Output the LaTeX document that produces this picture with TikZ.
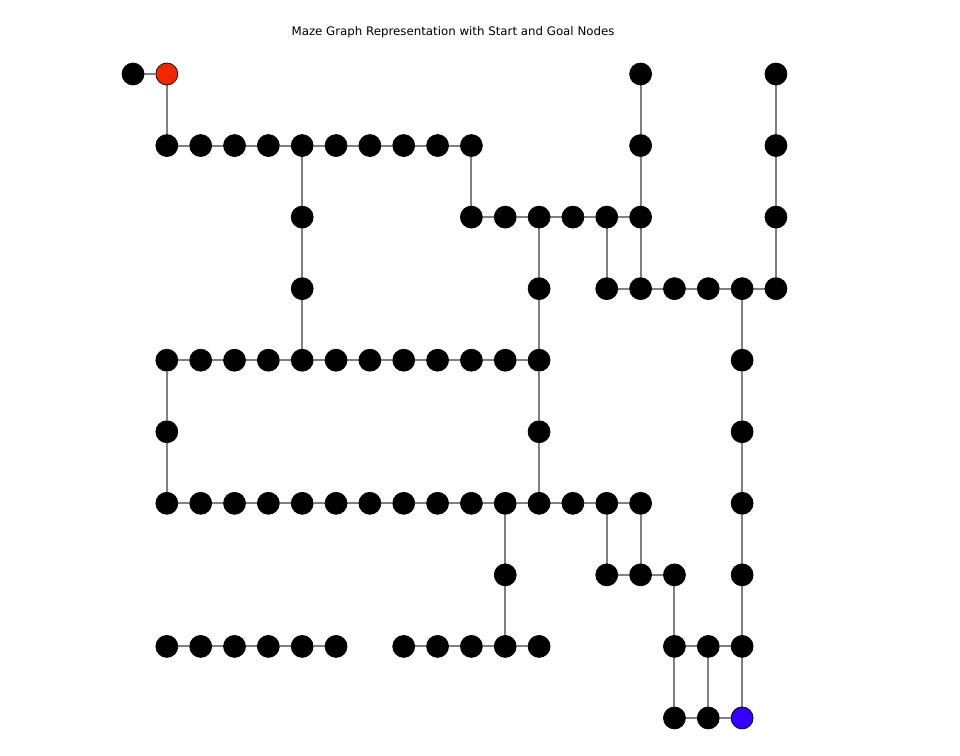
\documentclass[tikz,border=0pt]{standalone}
\usepackage{fontspec}
\setmainfont{DejaVu Sans}
\usetikzlibrary{backgrounds}

\definecolor{startred}{RGB}{240,40,0}
\definecolor{goalblue}{RGB}{52,0,255}

\begin{document}
\begin{tikzpicture}[x=1pt,y=-1pt]

\tikzset{
    cell/.style={circle,inner sep=0pt,minimum size=22pt,draw=black,line width=0.7pt,fill=black},
    link/.style={draw=black!50,line width=2pt}}

\useasboundingbox (0,0) rectangle (960,755);

\node[font=\fontsize{11.8}{14}\selectfont] (title) at (453,32) {Maze Graph Representation with Start and Goal Nodes};

% cells, row/first column/last column
\foreach \r/\a/\b in {0/0/0, 0/15/15, 0/19/19,
    1/1/10, 1/15/15, 1/19/19,
    2/5/5, 2/10/15, 2/19/19,
    3/5/5, 3/12/12, 3/14/19,
    4/1/12, 4/18/18,
    5/1/1, 5/12/12, 5/18/18,
    6/1/15, 6/18/18,
    7/11/11, 7/14/16, 7/18/18,
    8/1/6, 8/8/12, 8/16/18,
    9/16/17}
  \foreach \c in {\a,...,\b}
    \node[cell] (n\r-\c) at ({133+33.84*\c},{74+71.55*\r}) {};

\node[cell, fill=startred] (n0-1) at ({133+33.84},74) {};
\node[cell, fill=goalblue] (n9-18) at ({133+33.84*18},{74+71.55*9}) {};

\begin{scope}[on background layer]
% horizontal passages
\foreach \r/\a/\b in {0/0/1, 1/1/10, 2/10/15, 3/14/19, 4/1/12, 6/1/15,
    7/14/16, 8/1/6, 8/8/12, 8/16/18, 9/16/18}{
  \pgfmathtruncatemacro\e{\b-1}
  \foreach \c in {\a,...,\e}{
    \pgfmathtruncatemacro\d{\c+1}
    \draw[link] (n\r-\c) -- (n\r-\d);
  }}
% vertical passages
\foreach \r/\c in {0/1, 0/15, 0/19, 1/5, 1/10, 1/15, 1/19,
    2/5, 2/12, 2/14, 2/15, 2/19, 3/5, 3/12, 3/18,
    4/1, 4/12, 4/18, 5/1, 5/12, 5/18,
    6/11, 6/14, 6/15, 6/18, 7/11, 7/16, 7/18,
    8/16, 8/17, 8/18}{
  \pgfmathtruncatemacro\s{\r+1}
  \draw[link] (n\r-\c) -- (n\s-\c);
}
\end{scope}

\end{tikzpicture}
\end{document}
